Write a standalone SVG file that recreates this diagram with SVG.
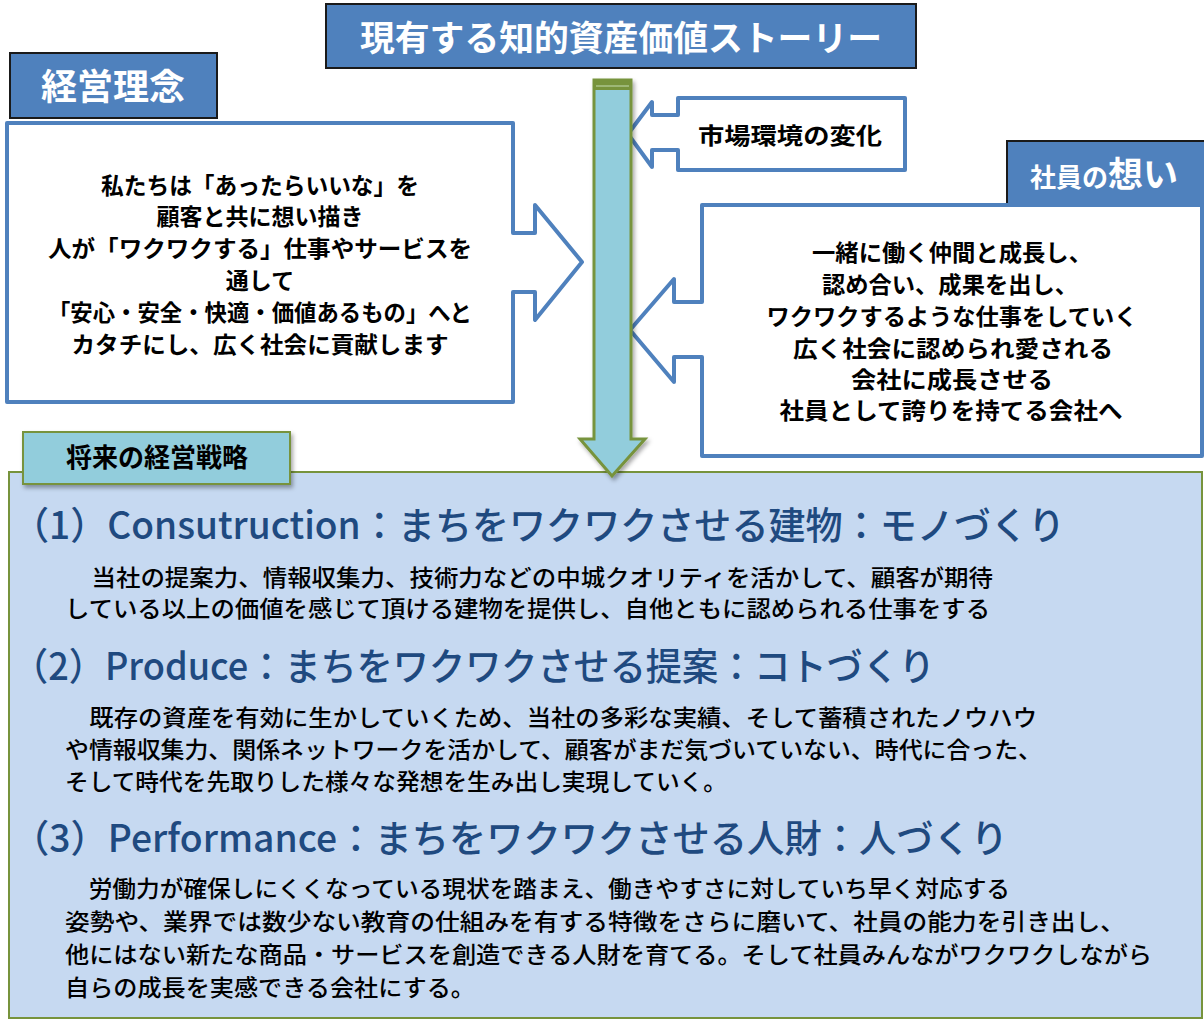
<svg xmlns="http://www.w3.org/2000/svg" width="1204" height="1020" viewBox="0 0 1204 1020">
<defs>
<style>
text{font-family:"Noto Sans CJK JP","Noto Sans CJK SC",sans-serif;}
.lbl{fill:#4f81bd;stroke:#1a1a1a;stroke-width:2;}
.lblt{fill:#ffffff;font-weight:bold;text-anchor:middle;}
.call{fill:#ffffff;stroke:#4f81bd;stroke-width:4;stroke-linejoin:round;}
.ct{fill:#000000;font-weight:bold;font-size:23px;text-anchor:middle;}
.hd{fill:#1f4a80;font-size:38px;font-weight:500;}
.bd{fill:#000000;font-size:23px;font-weight:500;}
</style>
<filter id="sh" x="-20%" y="-20%" width="140%" height="150%">
<feDropShadow dx="2" dy="3" stdDeviation="2" flood-color="#000" flood-opacity="0.35"/>
</filter>
</defs>

<g id="title">
<rect class="lbl" x="326" y="4" width="590" height="64"/>
<text class="lblt" x="621" y="51" font-size="35" textLength="522" lengthAdjust="spacingAndGlyphs">現有する知的資産価値ストーリー</text>
</g>

<g id="keiei-rinen-label">
<rect class="lbl" x="10" y="53" width="207" height="65"/>
<text class="lblt" x="113" y="100" font-size="36">経営理念</text>
</g>

<g id="keiei-rinen">
<path class="call" d="M7,123 L513,123 L513,233 L535,233 L535,205 L582,262 L535,320 L535,292 L513,292 L513,402 L7,402 Z"/>
<text class="ct" x="260" y="194" textLength="318" lengthAdjust="spacingAndGlyphs">私たちは「あったらいいな」を</text>
<text class="ct" x="260" y="225">顧客と共に想い描き</text>
<text class="ct" x="260" y="257" textLength="424" lengthAdjust="spacingAndGlyphs">人が「ワクワクする」仕事やサービスを</text>
<text class="ct" x="260" y="289">通して</text>
<text class="ct" x="260" y="321" textLength="424" lengthAdjust="spacingAndGlyphs">「安心・安全・快適・価値あるもの」へと</text>
<text class="ct" x="260" y="353" textLength="377" lengthAdjust="spacingAndGlyphs">カタチにし、広く社会に貢献します</text>
</g>

<g id="market">
<path class="call" d="M678,98 L905,98 L905,170 L678,170 L678,150 L652,150 L652,167 L628,134 L652,102 L652,115 L678,115 Z"/>
<text class="ct" x="790" y="144" textLength="184" lengthAdjust="spacingAndGlyphs">市場環境の変化</text>
</g>

<g id="shain-label">
<path d="M1007,205 L1007,141 L1204,141" fill="#4f81bd" stroke="#1a1a1a" stroke-width="2"/>
<rect x="1008" y="142" width="196" height="63" fill="#4f81bd"/>
<text class="lblt" x="1104" y="187" font-size="26"><tspan>社員の</tspan><tspan font-size="35">想い</tspan></text>
</g>

<g id="shain">
<path class="call" d="M702,205 L1202,205 L1202,456 L702,456 L702,357 L674,357 L674,382 L630,330 L674,279 L674,302 L702,302 Z"/>
<text class="ct" x="952" y="261" textLength="280" lengthAdjust="spacingAndGlyphs">一緒に働く仲間と成長し、</text>
<text class="ct" x="950" y="293" textLength="256" lengthAdjust="spacingAndGlyphs">認め合い、成果を出し、</text>
<text class="ct" x="952" y="325" textLength="371" lengthAdjust="spacingAndGlyphs">ワクワクするような仕事をしていく</text>
<text class="ct" x="953" y="357" textLength="320" lengthAdjust="spacingAndGlyphs">広く社会に認められ愛される</text>
<text class="ct" x="952" y="388" textLength="202" lengthAdjust="spacingAndGlyphs">会社に成長させる</text>
<text class="ct" x="951" y="419" textLength="343" lengthAdjust="spacingAndGlyphs">社員として誇りを持てる会社へ</text>
</g>

<g id="strategy">
<rect x="9" y="472" width="1193" height="546" fill="#c6d9f1" stroke="#77933c" stroke-width="2"/>
<text class="hd" x="12" y="539" textLength="1053" lengthAdjust="spacingAndGlyphs">（1）Consutruction：まちをワクワクさせる建物：モノづくり</text>
<text class="bd" x="67" y="586" textLength="926" lengthAdjust="spacingAndGlyphs">　当社の提案力、情報収集力、技術力などの中城クオリティを活かして、顧客が期待</text>
<text class="bd" x="65" y="617" textLength="925" lengthAdjust="spacingAndGlyphs">している以上の価値を感じて頂ける建物を提供し、自他ともに認められる仕事をする</text>
<text class="hd" x="12" y="680" textLength="923" lengthAdjust="spacingAndGlyphs">（2）Produce：まちをワクワクさせる提案：コトづくり</text>
<text class="bd" x="65" y="726" textLength="972" lengthAdjust="spacingAndGlyphs">　既存の資産を有効に生かしていくため、当社の多彩な実績、そして蓄積されたノウハウ</text>
<text class="bd" x="65" y="758" textLength="977" lengthAdjust="spacingAndGlyphs">や情報収集力、関係ネットワークを活かして、顧客がまだ気づいていない、時代に合った、</text>
<text class="bd" x="65" y="790" textLength="662" lengthAdjust="spacingAndGlyphs">そして時代を先取りした様々な発想を生み出し実現していく。</text>
<text class="hd" x="12" y="852" textLength="996" lengthAdjust="spacingAndGlyphs">（3）Performance：まちをワクワクさせる人財：人づくり</text>
<text class="bd" x="65" y="897" textLength="945" lengthAdjust="spacingAndGlyphs">　労働力が確保しにくくなっている現状を踏まえ、働きやすさに対していち早く対応する</text>
<text class="bd" x="65" y="930" textLength="1060" lengthAdjust="spacingAndGlyphs">姿勢や、業界では数少ない教育の仕組みを有する特徴をさらに磨いて、社員の能力を引き出し、</text>
<text class="bd" x="65" y="963" textLength="1087" lengthAdjust="spacingAndGlyphs">他にはない新たな商品・サービスを創造できる人財を育てる。そして社員みんながワクワクしながら</text>
<text class="bd" x="65" y="996" textLength="410" lengthAdjust="spacingAndGlyphs">自らの成長を実感できる会社にする。</text>
</g>

<g id="strategy-label">
<rect x="23" y="432" width="267" height="52" fill="#92cddc" stroke="#77933c" stroke-width="2" filter="url(#sh)"/>
<text x="157" y="467" font-size="26" font-weight="bold" text-anchor="middle" fill="#000">将来の経営戦略</text>
</g>

<g id="connectors">
<path d="M594,80 L631,80 L631,439 L645,439 L612,476 L580,439 L594,439 Z" fill="#92cddc" stroke="#77933c" stroke-width="3" stroke-linejoin="miter" filter="url(#sh)"/>
<rect x="594" y="80" width="37" height="10" fill="#77933c"/>
<line x1="596" y1="86" x2="629" y2="86" stroke="#c4dbb0" stroke-width="1"/>
</g>
</svg>
